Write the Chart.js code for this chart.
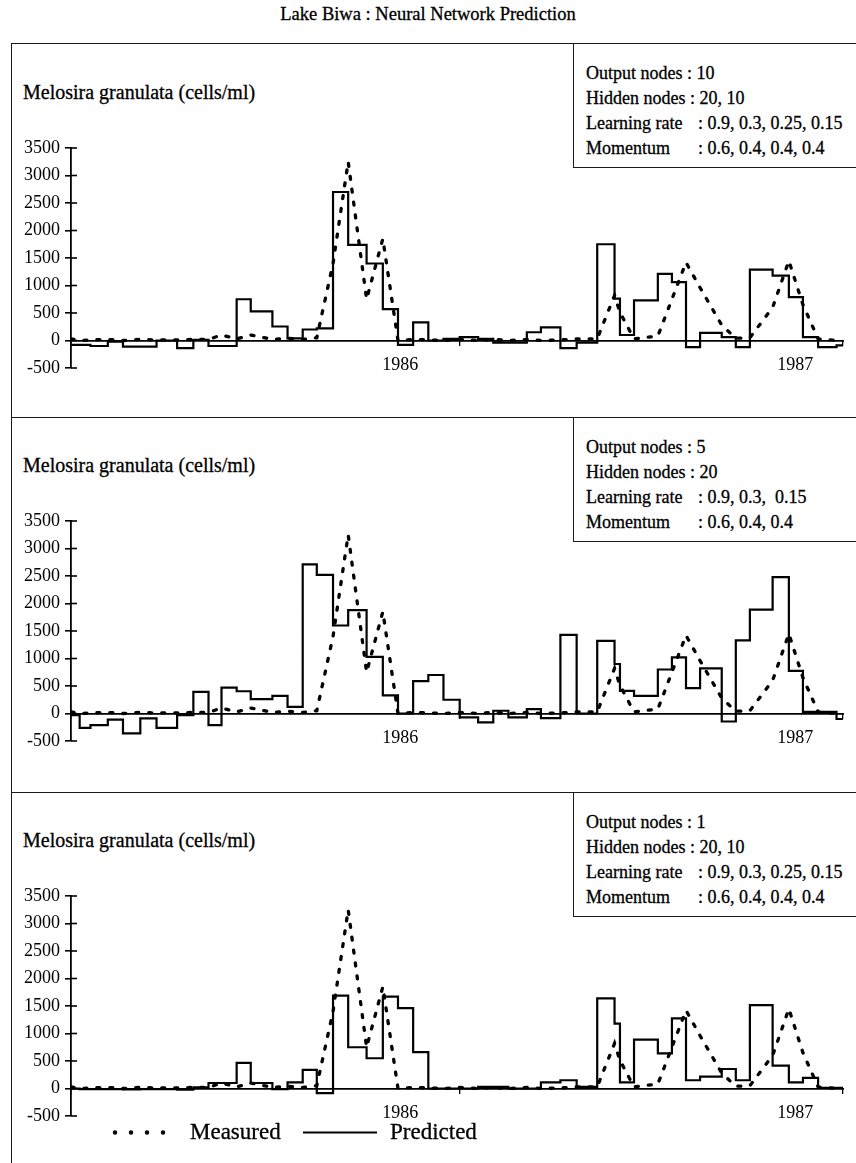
<!DOCTYPE html>
<html>
<head>
<meta charset="utf-8">
<title>Lake Biwa : Neural Network Prediction</title>
<script src="https://cdn.jsdelivr.net/npm/chart.js@4.4.1/dist/chart.umd.min.js"></script>
<style>
  body { margin: 0; background: #fff; }
  #page { position: relative; width: 856px; height: 1163px; overflow: hidden;
          font-family: "Liberation Serif", "Times New Roman", serif; color: #000; }
  #page div { -webkit-text-stroke: 0.3px #000; }
  .title { position: absolute; left: 0; width: 856px; top: 4px; text-align: center; font-size: 18.5px; line-height: 21px; }
  .hline { position: absolute; left: 11px; width: 845px; height: 0; border-top: 1.6px solid #1a1a1a; }
  .vline { position: absolute; left: 11px; width: 0; border-left: 1.6px solid #1a1a1a; }
  .label { position: absolute; left: 23px; font-size: 20px; line-height: 22px; white-space: nowrap; }
  .info { position: absolute; left: 573px; width: 300px; padding: 17px 0 6px 12px; font-size: 18px;
          border-left: 1.6px solid #1a1a1a; border-bottom: 1.6px solid #1a1a1a; }
  .info div { height: 25px; line-height: 25px; white-space: pre; }
  .info span { display: inline-block; width: 112px; }
  canvas { position: absolute; left: 0; }
  .legend { position: absolute; font-size: 23px; line-height: 24px; }
</style>
</head>
<body>
<div id="page">
  <div class="title">Lake Biwa : Neural Network Prediction</div>

  <div class="hline" style="top:43px"></div>
  <div class="hline" style="top:417px"></div>
  <div class="hline" style="top:792px"></div>
  <div class="vline" style="top:43px;height:1120px"></div>

  <div class="label" style="top:81px">Melosira granulata (cells/ml)</div>
  <div class="label" style="top:454px">Melosira granulata (cells/ml)</div>
  <div class="label" style="top:829px">Melosira granulata (cells/ml)</div>

  <div class="info" style="top:44px">
    <div>Output nodes : 10</div>
    <div>Hidden nodes : 20, 10</div>
    <div><span>Learning rate</span>: 0.9, 0.3, 0.25, 0.15</div>
    <div><span>Momentum</span>: 0.6, 0.4, 0.4, 0.4</div>
  </div>
  <div class="info" style="top:418px">
    <div>Output nodes : 5</div>
    <div>Hidden nodes : 20</div>
    <div><span>Learning rate</span>: 0.9, 0.3,  0.15</div>
    <div><span>Momentum</span>: 0.6, 0.4, 0.4</div>
  </div>
  <div class="info" style="top:793px">
    <div>Output nodes : 1</div>
    <div>Hidden nodes : 20, 10</div>
    <div><span>Learning rate</span>: 0.9, 0.3, 0.25, 0.15</div>
    <div><span>Momentum</span>: 0.6, 0.4, 0.4, 0.4</div>
  </div>

  <canvas id="c1" width="856" height="373" style="top:44px"></canvas>
  <canvas id="c2" width="856" height="373" style="top:417px"></canvas>
  <canvas id="c3" width="856" height="371" style="top:792px"></canvas>

  <svg class="legend" style="left:111px;top:1128px" width="72" height="9">
    <line x1="4" y1="4.5" x2="68" y2="4.5" stroke="#000" stroke-width="4.5" stroke-linecap="round" stroke-dasharray="0 16"/>
  </svg>
  <div class="legend" style="left:190px;top:1120px">Measured</div>
  <svg class="legend" style="left:303px;top:1131px" width="74" height="3">
    <line x1="0" y1="1.5" x2="74" y2="1.5" stroke="#000" stroke-width="2.2"/>
  </svg>
  <div class="legend" style="left:390px;top:1120px">Predicted</div>
</div>

<script>
// sampling dates, days counted from 1 Jan 1985
const sampleDays = [61, 69, 79, 95, 109, 125, 140, 159, 174, 188,
  200, 214, 227, 247, 261, 275, 288, 303, 317, 334,
  349, 363, 377, 391, 405, 420, 437, 451, 465, 482,
  495, 513, 528, 547, 563, 568, 581, 603, 616, 629,
  642, 662, 675, 688, 709, 724, 737, 751, 768, 774];

// measured cells/ml
const measured = [30, 0, 10, 20, 0, 20, 10, 10, 20, 20,
  100, 30, 100, 20, 40, 20, 50, 1400, 3250, 750,
  1850, 0, 20, 10, 0, 20, 0, 20, 0, 20,
  0, 10, 30, 30, 820, 510, 30, 80, 750, 1420,
  960, 280, 40, 50, 600, 1450, 650, 30, 0, 0];

// output nodes 10
const predicted1 = [-80, -80, -100, -20, -110, -110, 0, -140, 10, -100,
  -100, 750, 530, 255, 40, 200, 220, 2700, 1740, 1400,
  570, -80, 330, 0, 30, 60, 30, -40, -40, 150,
  240, -140, -40, 1750, 760, 100, 730, 1210, 1060, -120,
  140, 60, -120, 1290, 1180, 790, 60, -120, -90, -90];

// output nodes 5
const predicted2 = [-30, -260, -210, -110, -360, -90, -260, -30, 395, -210,
  470, 405, 260, 320, 120, 2710, 2520, 1600, 1880, 1030,
  330, 0, 590, 700, 250, -70, -160, 50, -70, 80,
  -85, 1430, 0, 1320, 900, 410, 320, 800, 1020, 460,
  820, -145, 1330, 1890, 2480, 775, 30, 30, -100, -100];

// output nodes 1
const predicted3 = [0, -10, -10, -10, -15, -10, -10, -20, 20, 100,
  100, 465, 100, -10, 110, 340, -85, 1690, 750, 550,
  1670, 1460, 660, 0, 0, 0, 30, 30, 0, 0,
  110, 150, 30, 1640, 1180, 110, 890, 640, 1275, 150,
  215, 355, 150, 1515, 415, 110, 195, 10, 10, 10];

const yTicks = [-500, 0, 500, 1000, 1500, 2000, 2500, 3000, 3500];
const yearDays = [365, 730];
const yearLabels = ["1986", "1987"];
const markIdx = [0, 25, 49]; // small tick marks on the time axis

// ticks on the inner side of the y axis too
const crossTicks = {
  id: "crossTicks",
  afterDraw(chart) {
    const ys = chart.scales.y;
    const x0 = chart.chartArea.left;
    const ctx = chart.ctx;
    ctx.save();
    ctx.strokeStyle = "#000";
    ctx.lineWidth = 1.6;
    ys.ticks.forEach(t => {
      const py = ys.getPixelForValue(t.value);
      ctx.beginPath();
      ctx.moveTo(x0, py);
      ctx.lineTo(x0 + 6, py);
      ctx.stroke();
    });
    ctx.restore();
  }
};

function points(values) {
  return sampleDays.map((d, i) => ({ x: d, y: values[i] }));
}

function drawPanel(id, predicted) {
  const el = document.getElementById(id);
  const tickFont = { family: "Liberation Serif", size: 18 };
  new Chart(el, {
    type: "line",
    data: {
      datasets: [
        {
          label: "Measured",
          data: points(measured),
          borderColor: "#000",
          borderWidth: 3.3,
          borderDash: [3, 10],
          borderCapStyle: "round",
          pointRadius: 0,
          tension: 0
        },
        {
          label: "Predicted",
          data: points(predicted),
          borderColor: "#000",
          borderWidth: 2.2,
          stepped: true,
          pointRadius: 0
        }
      ]
    },
    options: {
      responsive: false,
      animation: false,
      events: [],
      layout: { padding: { top: 104, right: 13, bottom: el.height - 324, left: 0 } },
      plugins: { legend: { display: false }, tooltip: { enabled: false } },
      scales: {
        x: {
          type: "linear",
          min: sampleDays[0],
          max: sampleDays[sampleDays.length - 1],
          position: { y: 0 },
          grid: { display: false, drawTicks: false },
          border: { display: true, color: "#000", width: 1.8 },
          afterBuildTicks: s => { s.ticks = yearDays.map(v => ({ value: v })); },
          ticks: {
            autoSkip: false, maxRotation: 0, padding: 14, color: "#000",
            font: tickFont,
            callback: (v, i) => yearLabels[i]
          }
        },
        xt: {
          type: "linear",
          axis: "x",
          min: sampleDays[0],
          max: sampleDays[sampleDays.length - 1],
          position: { y: 0 },
          grid: { display: true, drawOnChartArea: false, drawTicks: true, tickLength: 5, color: "#000", lineWidth: 1.3 },
          border: { display: false },
          afterBuildTicks: s => { s.ticks = markIdx.map(i => ({ value: sampleDays[i] })); },
          ticks: { display: false }
        },
        y: {
          min: -500,
          max: 3500,
          afterFit: s => { s.width = 71; },
          afterBuildTicks: s => { s.ticks = yTicks.map(v => ({ value: v })); },
          grid: { drawOnChartArea: false, drawTicks: true, tickLength: 6, color: "#000", lineWidth: 1.6 },
          border: { display: true, color: "#000", width: 1.8 },
          ticks: {
            padding: 5, color: "#000",
            font: tickFont,
            callback: v => String(v)
          }
        }
      }
    },
    plugins: [crossTicks]
  });
}

drawPanel("c1", predicted1);
drawPanel("c2", predicted2);
drawPanel("c3", predicted3);
</script>
</body>
</html>
